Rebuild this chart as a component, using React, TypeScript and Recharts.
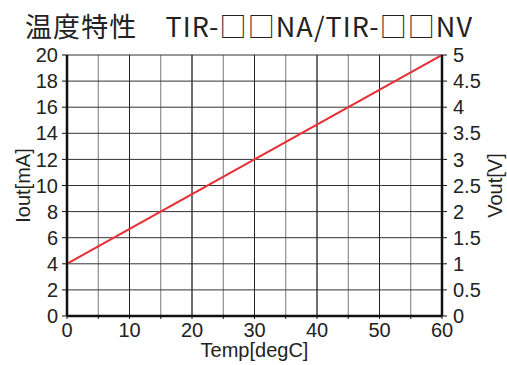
import React from 'react';
import { LineChart, Line, XAxis, YAxis, CartesianGrid, Label, ReferenceLine } from 'recharts';

const temps = [0, 60];
const iout = [4, 20];
const vout = [1, 5];
const xTicks = [0, 5, 10, 15, 20, 25, 30, 35, 40, 45, 50, 55, 60];
const majorX = [10, 20, 30, 40, 50];
const leftTicks = [0, 2, 4, 6, 8, 10, 12, 14, 16, 18, 20];
const rightTicks = [0, 0.5, 1, 1.5, 2, 2.5, 3, 3.5, 4, 4.5, 5];
const title = '温度特性　TIR-□□NA/TIR-□□NV';

const data = temps.map((t, k) => ({ t, i: iout[k], v: vout[k] }));

const FONT = '"Noto Sans CJK JP", "Noto Sans", sans-serif';
const NUMFONT = '"Liberation Sans", Arial, sans-serif';
const tickStyle = { fontSize: 20, fill: '#222', fontFamily: NUMFONT };

const XLabel = (props: any) => {
  const vb = props.viewBox || {};
  const cx = vb.x + vb.width / 2;
  return (
    <text x={cx} y={357} textAnchor="middle" style={{ fontSize: 20, fill: '#222', fontFamily: NUMFONT }}>
      Temp[degC]
    </text>
  );
};

const LeftLabel = (props: any) => {
  const vb = props.viewBox || {};
  const cy = vb.y + vb.height / 2;
  return (
    <text
      x={30}
      y={cy}
      transform={`rotate(-90 30 ${cy})`}
      textAnchor="middle"
      style={{ fontSize: 20, fill: '#222', fontFamily: NUMFONT }}
    >
      Iout[mA]
    </text>
  );
};

const RightLabel = (props: any) => {
  const vb = props.viewBox || {};
  const cy = vb.y + vb.height / 2;
  return (
    <text
      x={502}
      y={cy}
      transform={`rotate(-90 502 ${cy})`}
      textAnchor="middle"
      style={{ fontSize: 20, fill: '#222', fontFamily: NUMFONT }}
    >
      Vout[V]
    </text>
  );
};

export default function App() {
  return (
    <div style={{ position: 'absolute', left: 0, top: 0, width: 507, height: 365, background: '#fff' }}>
      <div
        style={{
          position: 'absolute',
          left: 25,
          top: 12,
          fontSize: 27,
          letterSpacing: 1.1,
          lineHeight: '28px',
          fontFamily: FONT,
          color: '#222',
          whiteSpace: 'nowrap',
        }}
      >
        {title}
      </div>
      <LineChart width={507} height={365} data={data} margin={{ top: 55, right: 0, bottom: 0, left: 0 }}>
        <CartesianGrid yAxisId="l" horizontal={false} stroke="#777" strokeWidth={1} />
        <CartesianGrid yAxisId="l" vertical={false} stroke="#333" strokeWidth={1} />
        {majorX.map((x) => (
          <ReferenceLine key={x} x={x} yAxisId="l" stroke="#222" strokeWidth={1} />
        ))}
        <XAxis
          dataKey="t"
          type="number"
          domain={[0, 60]}
          ticks={xTicks}
          interval={0}
          tickFormatter={(v: number) => (v % 10 === 0 ? String(v) : '')}
          height={49}
          tick={tickStyle}
          tickSize={3}
          tickMargin={4}
          axisLine={{ stroke: '#111', strokeWidth: 2.5 }}
          tickLine={{ stroke: '#111' }}
        >
          <Label content={<XLabel />} />
        </XAxis>
        <YAxis
          yAxisId="l"
          domain={[0, 20]}
          ticks={leftTicks}
          interval={0}
          width={67}
          tick={tickStyle}
          tickSize={5}
          tickMargin={4}
          axisLine={{ stroke: '#111', strokeWidth: 2.5 }}
          tickLine={{ stroke: '#111' }}
        >
          <Label content={<LeftLabel />} />
        </YAxis>
        <YAxis
          yAxisId="r"
          orientation="right"
          domain={[0, 5]}
          ticks={rightTicks}
          interval={0}
          width={65}
          tick={tickStyle}
          tickSize={5}
          tickMargin={6}
          axisLine={{ stroke: '#111', strokeWidth: 2.5 }}
          tickLine={{ stroke: '#111' }}
        >
          <Label content={<RightLabel />} />
        </YAxis>
        <Line
          yAxisId="r"
          dataKey="v"
          type="linear"
          stroke="#e8333a"
          strokeWidth={1.8}
          dot={false}
          isAnimationActive={false}
        />
        <Line
          yAxisId="l"
          dataKey="i"
          type="linear"
          stroke="#e8333a"
          strokeWidth={1.8}
          dot={false}
          isAnimationActive={false}
        />
      </LineChart>
    </div>
  );
}
